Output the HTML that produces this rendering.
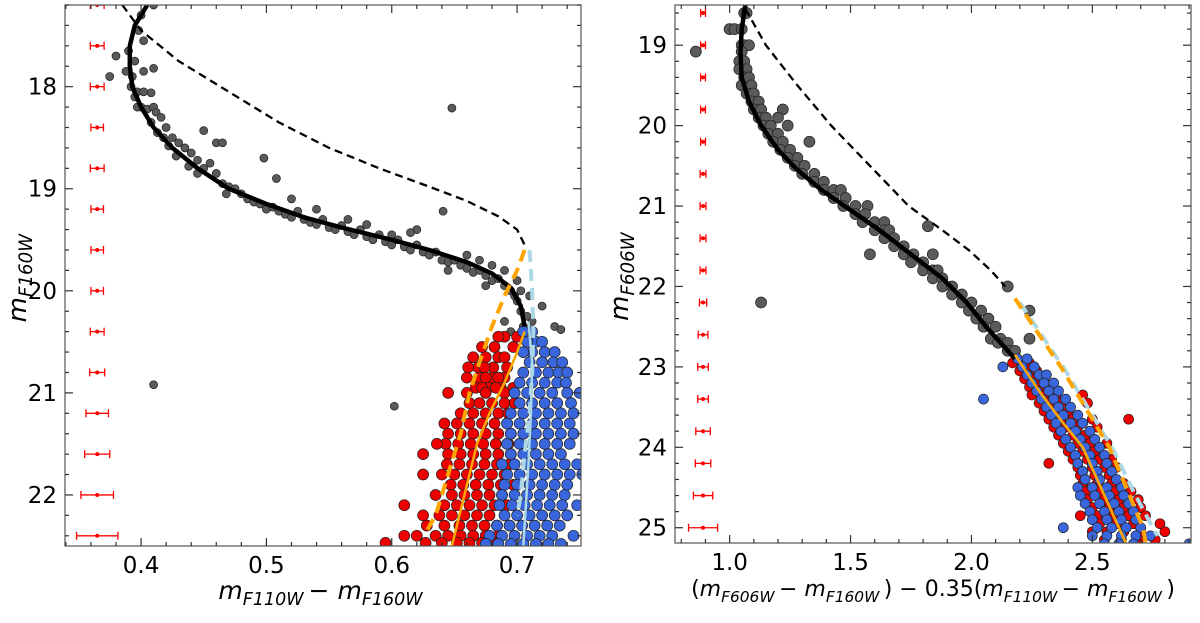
<!DOCTYPE html>
<html><head><meta charset="utf-8">
<style>
html,body{margin:0;padding:0;background:#fff;}
svg{display:block;font-family:"DejaVu Sans","Liberation Sans",sans-serif;}
</style></head>
<body>
<svg id="chart" width="1200" height="623" viewBox="0 0 1200 623"></svg>
<script>
// ===== Left panel data =====
const leftXTicks = [0.4, 0.5, 0.6, 0.7];
const leftYTicks = [18, 19, 20, 21, 22];
const leftFiducial = [[0.405,17.2],[0.395,17.4],[0.391,17.6],[0.391,17.8],[0.393,18.0],[0.4,18.2],[0.41,18.4],[0.425,18.6],[0.445,18.8],[0.47,19.0],[0.5,19.15],[0.53,19.28],[0.56,19.38],[0.6,19.5],[0.63,19.6],[0.66,19.72],[0.68,19.83],[0.695,19.97],[0.703,20.15],[0.706,20.35]];
const leftDashed = [[0.385,17.2],[0.4,17.45],[0.43,17.75],[0.47,18.05],[0.51,18.35],[0.55,18.6],[0.59,18.8],[0.63,18.98],[0.66,19.12],[0.685,19.27],[0.7,19.4],[0.706,19.55]];
const leftOrangeDashed = [[0.706,19.6],[0.7,19.8],[0.69,20.05],[0.68,20.35],[0.67,20.7],[0.662,21.0],[0.655,21.4],[0.645,21.8],[0.635,22.2],[0.628,22.35]];
const leftOrangeSolid = [[0.706,20.4],[0.7,20.6],[0.69,20.9],[0.678,21.2],[0.668,21.5],[0.662,21.8],[0.656,22.1],[0.648,22.5]];
const leftBlueDashed = [[0.71,19.6],[0.712,20.0],[0.713,20.4],[0.712,20.8],[0.71,21.2],[0.706,21.6],[0.703,22.0],[0.7,22.2]];
const leftBlueSolid = [[0.709,20.3],[0.712,20.7],[0.711,21.2],[0.709,21.7],[0.707,22.1],[0.705,22.5]];
const leftGray = [0.398,17.45,0.402,17.55,0.39,17.65,0.395,17.75,0.388,17.85,0.393,17.9,0.41,17.82,0.392,18.0,0.397,18.05,0.395,18.1,0.402,18.05,0.408,18.06,0.4,18.2,0.405,18.22,0.41,18.2,0.397,18.2,0.412,18.25,0.416,18.3,0.408,18.35,0.42,18.4,0.413,18.45,0.418,18.5,0.425,18.5,0.43,18.55,0.422,18.58,0.435,18.6,0.44,18.65,0.428,18.68,0.445,18.72,0.438,18.78,0.45,18.8,0.455,18.75,0.46,18.85,0.445,18.85,0.465,18.95,0.47,18.98,0.475,19.0,0.468,19.05,0.48,19.05,0.485,19.1,0.49,19.13,0.495,19.15,0.5,19.2,0.505,19.18,0.51,19.22,0.515,19.25,0.52,19.28,0.525,19.22,0.53,19.3,0.535,19.33,0.54,19.35,0.545,19.3,0.55,19.38,0.555,19.4,0.56,19.36,0.565,19.42,0.57,19.45,0.575,19.4,0.58,19.47,0.585,19.5,0.59,19.45,0.595,19.52,0.6,19.55,0.605,19.5,0.61,19.57,0.615,19.6,0.62,19.55,0.625,19.62,0.63,19.65,0.635,19.62,0.64,19.7,0.645,19.72,0.65,19.7,0.655,19.75,0.66,19.78,0.665,19.82,0.67,19.8,0.675,19.85,0.68,19.9,0.685,19.88,0.69,19.95,0.695,20.0,0.698,20.05,0.7,20.1,0.703,20.2,0.708,20.25,0.712,20.3,0.705,20.35,0.69,20.3,0.695,20.4,0.73,20.35,0.735,20.38,0.72,20.15,0.71,20.05,0.648,18.21,0.41,20.92,0.602,21.13,0.641,19.22,0.508,18.9,0.498,18.7,0.45,18.43,0.46,18.55,0.465,18.55,0.402,17.85,0.38,17.7,0.375,17.9,0.4,17.3,0.41,17.2,0.62,19.4,0.615,19.43,0.565,19.3,0.58,19.35,0.52,19.1,0.54,19.2,0.6,19.45,0.66,19.65,0.67,19.7,0.645,19.8,0.68,19.75,0.69,19.8,0.675,19.95,0.7,19.9,0.703,20.0];
const leftRedRows = [[20.45,[0.69,0.7,0.685]],[20.55,[0.697,0.682,0.672]],[20.65,[0.665,0.685,0.69,0.675]],[20.75,[0.669,0.681,0.692,0.661,0.674]],[20.85,[0.67,0.68,0.69,0.66,0.675,0.685]],[20.95,[0.667,0.677,0.687,0.672,0.683,0.697]],[21.0,[0.645,0.66,0.675,0.69]],[21.1,[0.662,0.67,0.68,0.69,0.698]],[21.2,[0.655,0.665,0.675,0.685,0.693]],[21.3,[0.652,0.662,0.672,0.682,0.692,0.642]],[21.4,[0.645,0.655,0.665,0.675,0.685,0.695]],[21.5,[0.643,0.653,0.663,0.673,0.683,0.693,0.636]],[21.6,[0.625,0.645,0.655,0.665,0.675,0.685,0.695]],[21.7,[0.644,0.654,0.664,0.674,0.684,0.694]],[21.8,[0.625,0.64,0.65,0.66,0.67,0.68,0.69]],[21.9,[0.647,0.657,0.667,0.677,0.687,0.697]],[22.0,[0.635,0.648,0.658,0.668,0.678,0.688]],[22.1,[0.61,0.642,0.652,0.662,0.672,0.682,0.692]],[22.2,[0.625,0.638,0.648,0.658,0.668,0.678]],[22.3,[0.628,0.642,0.654,0.664,0.674,0.684,0.694]],[22.4,[0.635,0.645,0.655,0.665,0.675,0.685,0.62,0.61]],[22.47,[0.627,0.64,0.652,0.662,0.672,0.682,0.595]]];
const leftBlueRows = [[20.4,[0.712,0.705]],[20.5,[0.715,0.708,0.72]],[20.6,[0.712,0.722,0.73,0.705]],[20.7,[0.71,0.72,0.729,0.736]],[20.8,[0.705,0.715,0.725,0.733,0.74]],[20.9,[0.702,0.712,0.722,0.732,0.739]],[21.0,[0.698,0.708,0.718,0.728,0.74,0.75]],[21.1,[0.702,0.712,0.722,0.732,0.743]],[21.2,[0.695,0.705,0.715,0.725,0.735,0.745]],[21.3,[0.692,0.702,0.712,0.722,0.732,0.742]],[21.4,[0.695,0.705,0.715,0.725,0.735,0.745]],[21.5,[0.692,0.702,0.712,0.722,0.732,0.742]],[21.6,[0.695,0.705,0.715,0.725,0.735]],[21.7,[0.688,0.698,0.708,0.718,0.728,0.738,0.748]],[21.8,[0.692,0.702,0.712,0.722,0.732,0.742,0.752]],[21.9,[0.69,0.7,0.71,0.72,0.73,0.74]],[22.0,[0.688,0.698,0.708,0.718,0.728,0.738]],[22.1,[0.686,0.696,0.706,0.716,0.726,0.736,0.748]],[22.2,[0.69,0.7,0.71,0.72,0.73,0.74]],[22.3,[0.684,0.694,0.704,0.714,0.724,0.734]],[22.4,[0.678,0.688,0.698,0.708,0.718,0.728,0.745]],[22.48,[0.675,0.685,0.695,0.705,0.715,0.725,0.735]]];
const leftErrMag = [17.2,17.6,18.0,18.4,18.8,19.2,19.6,20.0,20.4,20.8,21.2,21.6,22.0,22.4];
const leftErrHalf = [0.0055,0.0055,0.0055,0.005,0.0055,0.005,0.005,0.005,0.0055,0.006,0.009,0.01,0.013,0.0165];

// ===== Right panel data =====
const rightXTicks = [1.0, 1.5, 2.0, 2.5];
const rightYTicks = [19, 20, 21, 22, 23, 24, 25];
const rightFiducial = [[1.065,18.5],[1.05,18.8],[1.045,19.1],[1.05,19.4],[1.08,19.7],[1.13,20.0],[1.2,20.3],[1.28,20.55],[1.38,20.8],[1.5,21.05],[1.62,21.3],[1.75,21.6],[1.88,21.9],[1.98,22.2],[2.06,22.5],[2.12,22.7],[2.18,22.9]];
const rightDashed = [[1.065,18.55],[1.15,19.0],[1.28,19.5],[1.42,20.0],[1.58,20.5],[1.74,21.0],[1.88,21.3],[1.99,21.55],[2.08,21.8],[2.14,22.0]];
const rightSolidMS = [[2.18,22.85],[2.28,23.3],[2.38,23.7],[2.46,24.0],[2.52,24.4],[2.58,24.8],[2.64,25.2]];
const rightOrangeDashed = [[2.18,22.15],[2.28,22.6],[2.37,23.0],[2.47,23.5],[2.57,24.0],[2.64,24.5],[2.71,25.0],[2.72,25.19]];
const rightBlueDashed = [[2.2,22.2],[2.3,22.65],[2.39,23.05],[2.49,23.55],[2.59,24.05],[2.67,24.55],[2.75,25.0],[2.77,25.1]];
const rightGrayRows = [[18.6,[1.06,1.07]],[18.8,[1.0,1.02,1.05]],[19.0,[1.05,1.06,1.08]],[19.08,[0.86,1.05]],[19.2,[1.04,1.06]],[19.3,[1.04,1.07]],[19.4,[1.06,1.08]],[19.5,[1.05,1.09]],[19.6,[1.07,1.1]],[19.7,[1.09,1.12]],[19.8,[1.1,1.13,1.22]],[19.9,[1.12,1.15,1.2]],[20.0,[1.14,1.17,1.24]],[20.1,[1.16,1.2]],[20.2,[1.18,1.22,1.33]],[20.3,[1.21,1.25]],[20.4,[1.24,1.28]],[20.5,[1.27,1.31]],[20.6,[1.3,1.35]],[20.7,[1.35,1.39]],[20.8,[1.39,1.43,1.46]],[20.9,[1.43,1.48]],[21.0,[1.47,1.52,1.57]],[21.1,[1.52,1.56]],[21.2,[1.55,1.6,1.64]],[21.3,[1.6,1.64,1.66]],[21.4,[1.64,1.68]],[21.25,[1.82]],[21.5,[1.68,1.72]],[21.6,[1.72,1.76,1.58,1.84]],[21.7,[1.75,1.8]],[21.8,[1.8,1.84,1.86]],[21.9,[1.84,1.88]],[22.0,[1.88,1.92,2.15]],[22.1,[1.92,1.96]],[22.2,[1.96,2.0,1.13]],[22.3,[1.99,2.04,2.24]],[22.4,[2.02,2.07]],[22.5,[2.05,2.1]],[22.65,[2.08,2.12,2.24]],[22.7,[2.11,2.15]],[22.8,[2.15,2.18]]];
const rightRedRows = [[22.95,[2.17,2.21,2.24]],[23.05,[2.2,2.24,2.27]],[23.15,[2.22,2.26,2.3]],[23.25,[2.24,2.28,2.32]],[23.35,[2.25,2.3,2.35,2.46]],[23.45,[2.28,2.32,2.37,2.48]],[23.55,[2.3,2.35,2.4]],[23.65,[2.32,2.37,2.42,2.5,2.65]],[23.75,[2.34,2.39,2.44,2.52]],[23.85,[2.36,2.42,2.47]],[23.95,[2.38,2.44,2.49,2.56]],[24.05,[2.4,2.46,2.51]],[24.15,[2.42,2.48,2.53,2.58]],[24.2,[2.32]],[24.25,[2.44,2.5,2.55,2.6]],[24.35,[2.45,2.51,2.57]],[24.45,[2.46,2.52,2.58,2.63]],[24.55,[2.47,2.53,2.59,2.66]],[24.65,[2.48,2.55,2.61,2.69]],[24.75,[2.5,2.57,2.63,2.7]],[24.85,[2.45,2.52,2.59,2.65,2.72]],[24.95,[2.53,2.6,2.67,2.78]],[25.05,[2.5,2.56,2.63,2.7,2.8]],[25.15,[2.55,2.62,2.69,2.76]]];
const rightBlueRows = [[22.9,[2.19,2.23]],[23.0,[2.13,2.21,2.26]],[23.1,[2.23,2.28,2.31]],[23.2,[2.25,2.3,2.34]],[23.3,[2.27,2.32,2.36]],[23.4,[2.05,2.29,2.34,2.39]],[23.5,[2.31,2.36,2.41]],[23.6,[2.33,2.38,2.44]],[23.7,[2.35,2.41,2.46]],[23.8,[2.37,2.43,2.49]],[23.9,[2.39,2.45,2.51]],[24.0,[2.41,2.47,2.53]],[24.1,[2.43,2.49,2.55]],[24.2,[2.44,2.5,2.56]],[24.3,[2.46,2.52,2.58]],[24.4,[2.47,2.53,2.6]],[24.5,[2.44,2.5,2.56,2.62]],[24.6,[2.45,2.51,2.57,2.63]],[24.7,[2.47,2.53,2.59,2.65]],[24.8,[2.49,2.55,2.61,2.67]],[24.9,[2.5,2.56,2.62,2.68]],[25.0,[2.38,2.52,2.58,2.64,2.7]],[25.1,[2.5,2.56,2.62,2.68,2.74]],[25.2,[2.55,2.61,2.67,2.9]]];
const rightErrMag = [18.6,19.0,19.4,19.8,20.2,20.6,21.0,21.4,21.8,22.2,22.6,23.0,23.4,23.8,24.2,24.6,25.0];
const rightErrHalf = [0.01,0.01,0.01,0.01,0.01,0.012,0.012,0.012,0.012,0.015,0.02,0.022,0.022,0.03,0.032,0.04,0.06];

const NS = "http://www.w3.org/2000/svg";
const svg = document.getElementById('chart');
function mk(tag, attrs, parent){const e=document.createElementNS(NS,tag);for(const k in attrs)e.setAttribute(k,attrs[k]);(parent||svg).appendChild(e);return e;}

function panel(cfg){
  const g = mk('g',{});
  
  
  const sx = v => cfg.L + (v - cfg.x0)/(cfg.x1 - cfg.x0)*(cfg.R - cfg.L);
  const sy = v => cfg.T + (v - cfg.y0)/(cfg.y1 - cfg.y0)*(cfg.B - cfg.T);
  const clipId = cfg.name + '-clip';
  const cp = mk('clipPath',{id:clipId},g); mk('rect',{x:cfg.L,y:cfg.T,width:cfg.R-cfg.L,height:cfg.B-cfg.T},cp);
  const plot = mk('g',{'clip-path':'url(#'+clipId+')'},g);
  const path = pts => pts.map((p,i)=>(i?'L':'M')+sx(p[0]).toFixed(1)+','+sy(p[1]).toFixed(1)).join('');
  cfg.errMag.forEach((m,i)=>{
    const h = cfg.errHalf[i], y = sy(m), xa = sx(cfg.errX - h), xb = sx(cfg.errX + h);
    const eb = mk('g',{stroke:'#f00','stroke-width':1.3},plot);
    
    
    mk('line',{x1:xa,x2:xb,y1:y,y2:y},eb);
    mk('line',{x1:xa,x2:xa,y1:y-4,y2:y+4},eb);
    mk('line',{x1:xb,x2:xb,y1:y-4,y2:y+4},eb);
    mk('circle',{cx:sx(cfg.errX),cy:y,r:2,fill:'#f00',stroke:'none'},eb);
  });
  const dot = (x,y,fill,r,nm)=>{const c=mk('circle',{cx:sx(x).toFixed(1),cy:sy(y).toFixed(1),r:r,fill:fill,stroke:'#222','stroke-width':0.7},plot);
    
    };
  cfg.gray.forEach(([x,y])=>dot(x,y,'#5a5a5a',cfg.rg,'gray-star'));
  cfg.red.forEach(([x,y])=>dot(x,y,'#ee0000',cfg.rc,'red-star'));
  cfg.blue.forEach(([x,y])=>dot(x,y,'#3a66dd',cfg.rc,'blue-star'));
  const line = (pts,stroke,w,dash,nm)=>{const p=mk('path',{d:path(pts),fill:'none',stroke:stroke,'stroke-width':w,'stroke-dasharray':dash||'none','stroke-linejoin':'round'},plot);
    
    };
  line(cfg.dashed,'#000',2.3,'8,5','dashed-isochrone');
  line(cfg.fid,'#000',4.5,null,'fiducial-line');
  line(cfg.bDash,'#add8e6',4,'12,7','lightblue-dashed-line');
  line(cfg.oDash,'#ffa500',4,'12,7','orange-dashed-line');
  line(cfg.bSolid,'#add8e6',2.5,null,'lightblue-fiducial');
  line(cfg.oSolid,'#ffa500',2.5,null,'orange-fiducial');
  const fr = mk('rect',{x:cfg.L,y:cfg.T,width:cfg.R-cfg.L,height:cfg.B-cfg.T,fill:'none',stroke:'#555','stroke-width':1.2},g);
  
  
  const tg = mk('g',{stroke:'#333','stroke-width':1.2},g);
  for(let v=Math.ceil(cfg.x0/cfg.xm)*cfg.xm; v<=cfg.x1; v+=cfg.xm){
    const x=sx(v), major = cfg.xt.some(t=>Math.abs(t-v)<1e-6), len = major?8:4;
    mk('line',{x1:x,x2:x,y1:cfg.B,y2:cfg.B-len},tg); mk('line',{x1:x,x2:x,y1:cfg.T,y2:cfg.T+len},tg);
  }
  for(let v=Math.ceil(cfg.y0/cfg.ym)*cfg.ym; v<=cfg.y1; v+=cfg.ym){
    const y=sy(v), major = cfg.yt.some(t=>Math.abs(t-v)<1e-6), len = major?8:4;
    mk('line',{x1:cfg.L,x2:cfg.L+len,y1:y,y2:y},tg); mk('line',{x1:cfg.R,x2:cfg.R-len,y1:y,y2:y},tg);
  }
  cfg.xt.forEach(t=>{const e=mk('text',{x:sx(t),y:cfg.B+27,'text-anchor':'middle','font-size':23,fill:'#000'},g);e.textContent=t.toFixed(1);
    
    });
  cfg.yt.forEach(t=>{const e=mk('text',{x:cfg.L-8,y:sy(t)+8,'text-anchor':'end','font-size':23,fill:'#000'},g);e.textContent=t;
    
    });
  const xl=mk('text',{x:(cfg.L+cfg.R)/2,y:cfg.B+53,'text-anchor':'middle','font-size':cfg.xfs,fill:'#000'},g);
  xl.innerHTML = cfg.xlabel;
  
  
  const yl=mk('text',{x:0,y:0,'text-anchor':'middle','font-size':26,fill:'#000',transform:'translate('+cfg.ylx+','+((cfg.T+cfg.B)/2)+') rotate(-90)'},g);
  yl.innerHTML = cfg.ylabel;
  
  
}
const pairs = a => {const o=[];for(let i=0;i<a.length;i+=2)o.push([a[i],a[i+1]]);return o;};
const rows = r => {const o=[];r.forEach(([m,xs])=>xs.forEach(x=>o.push([x,m])));return o;};
const sub = s => '<tspan font-style="italic">m</tspan><tspan font-size="0.7em" dy="6" font-style="italic">'+s+'</tspan><tspan dy="-6">\u2009</tspan>';

panel({name:'left-panel',L:65,R:581,T:5,B:546,x0:0.3393,x1:0.751,y0:17.2,y1:22.5,xm:0.02,ym:0.2,xt:leftXTicks,yt:leftYTicks,
  fid:leftFiducial,dashed:leftDashed,oDash:leftOrangeDashed,oSolid:leftOrangeSolid,bDash:leftBlueDashed,bSolid:leftBlueSolid,
  gray:pairs(leftGray),red:rows(leftRedRows),blue:rows(leftBlueRows),rg:4,rc:5.5,errX:0.365,errMag:leftErrMag,errHalf:leftErrHalf,
  xlabel:sub('F110W')+'− '+sub('F160W'),ylabel:sub('F160W'),ylx:26,xfs:25});
panel({name:'right-panel',L:675,R:1191,T:5,B:543,x0:0.774,x1:2.908,y0:18.5,y1:25.19,xm:0.1,ym:0.2,xt:rightXTicks,yt:rightYTicks,
  fid:rightFiducial,dashed:rightDashed,oDash:rightOrangeDashed,oSolid:rightSolidMS,bDash:rightBlueDashed,bSolid:rightSolidMS,
  gray:rows(rightGrayRows),red:rows(rightRedRows),blue:rows(rightBlueRows),rg:5.5,rc:5,errX:0.89,errMag:rightErrMag,errHalf:rightErrHalf,
  xlabel:'('+sub('F606W')+'− '+sub('F160W')+') − 0.35('+sub('F110W')+'− '+sub('F160W')+')',ylabel:sub('F606W'),ylx:628,xfs:22});
</script>
</body></html>
